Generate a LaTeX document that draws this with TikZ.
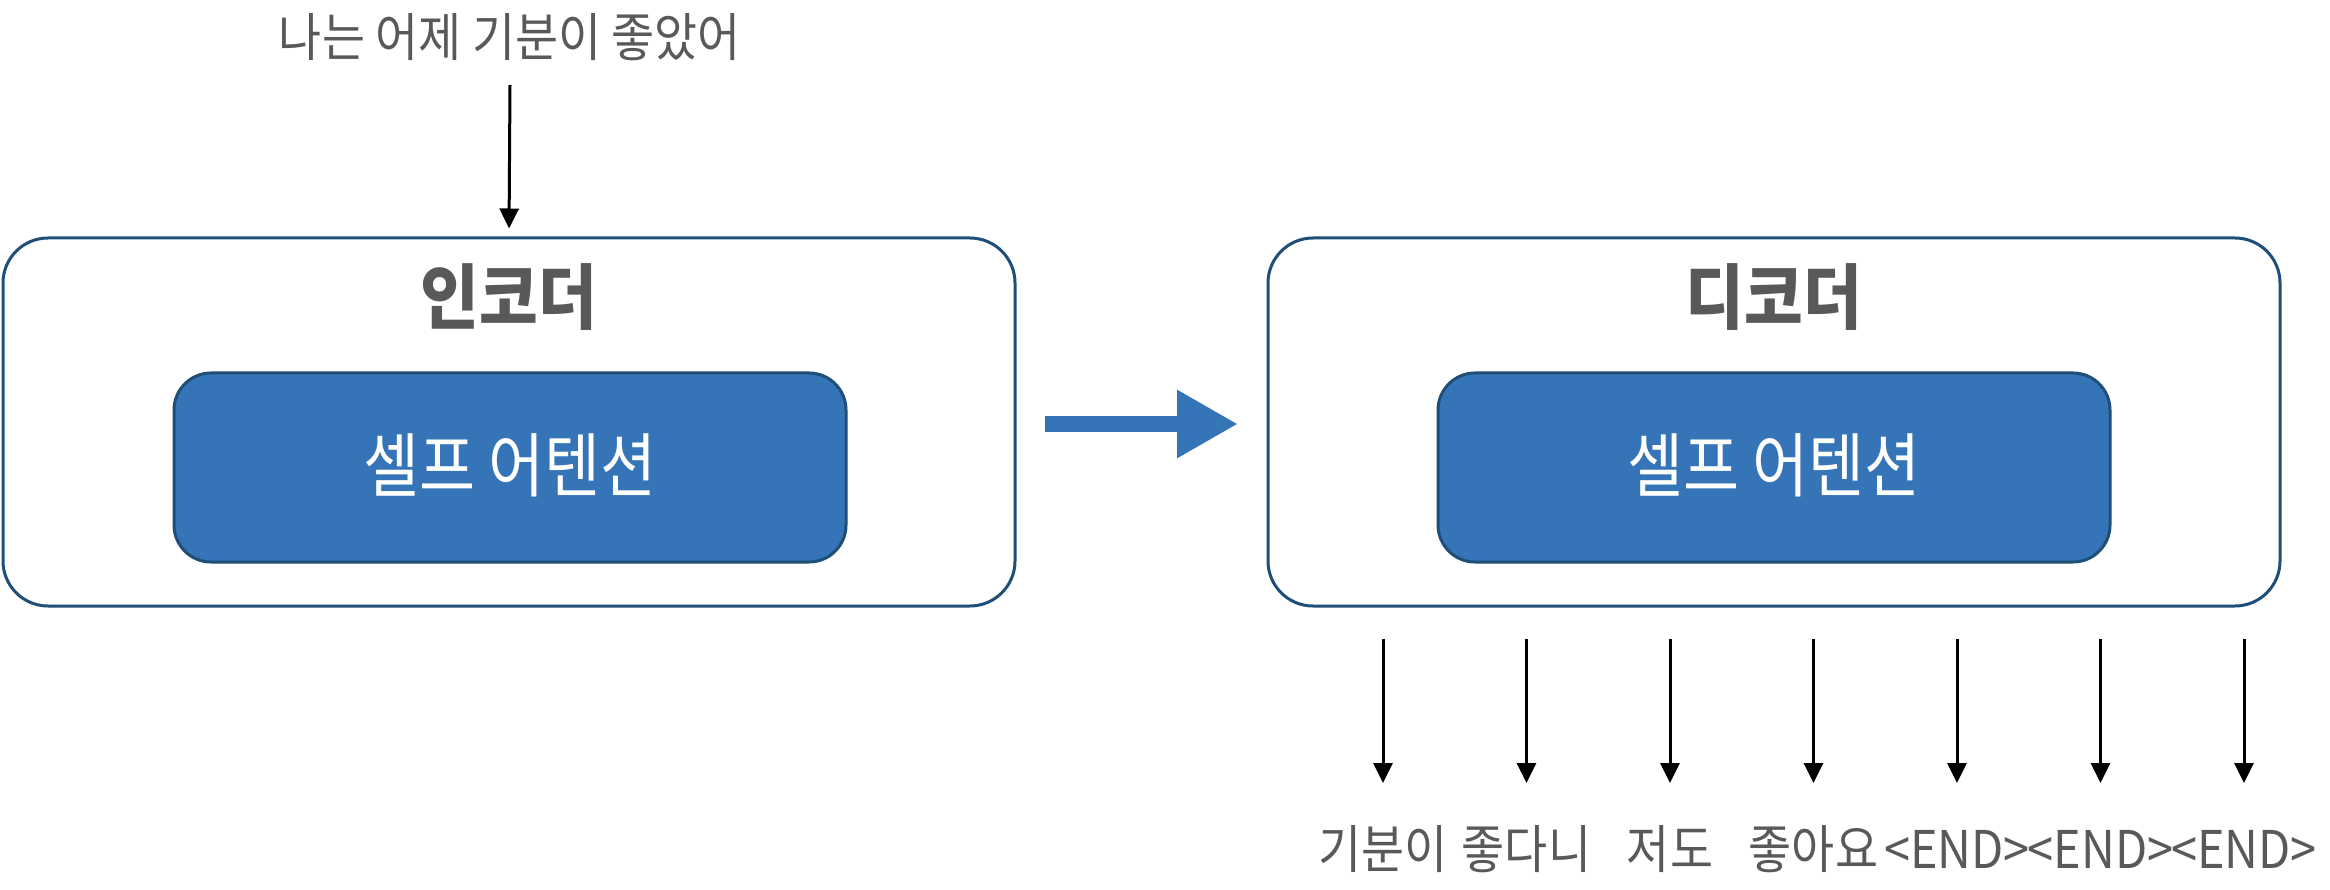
\documentclass[tikz,border=0pt]{standalone}
\usepackage{fontspec}
\newfontfamily\kr[FakeStretch=0.9]{Noto Sans CJK KR}
\newfontfamily\krn[FakeStretch=0.87]{Noto Sans CJK KR}
\usetikzlibrary{arrows.meta}
\definecolor{boxline}{RGB}{31,78,121}
\definecolor{boxfill}{RGB}{53,116,182}
\definecolor{txtgrey}{RGB}{89,89,89}
\begin{document}
\begin{tikzpicture}[x=1pt,y=-1pt,
  outerbox/.style={draw=boxline,line width=3pt,fill=white,rounded corners=45pt,minimum width=1012pt,minimum height=368pt,inner sep=0pt},
  innerbox/.style={draw=boxline,line width=3pt,fill=boxfill,rounded corners=37pt,minimum width=672pt,minimum height=189pt,inner sep=0pt},
  title/.style={text=txtgrey,font=\kr\bfseries\fontsize{71}{80}\selectfont,inner sep=0pt},
  innertxt/.style={text=white,font=\krn\fontsize{70}{80}\selectfont,inner sep=0pt},
  word/.style={text=txtgrey,font=\kr\fontsize{52}{60}\selectfont,inner sep=0pt},
  thin/.style={draw=black,line width=3pt,-{Triangle[length=20pt,width=19pt]}},
  bigarrow/.style={draw=boxfill,line width=16pt,-{Triangle[length=61pt 0 0,width=64pt 0 0]}}]
\useasboundingbox (0,0) rectangle (2330,890);
% encoder
\node[outerbox] (enc) at (509,422) {};
\node[title] (enct) at (509,297) {인코더};
\node[innerbox] (encin) at (510,467.5) {};
\node[innertxt] (encsa) at (510,465) {셀프 어텐션};
% decoder
\node[outerbox] (dec) at (1774,422) {};
\node[title] (dect) at (1774,297) {디코더};
\node[innerbox] (decin) at (1774,467.5) {};
\node[innertxt] (decsa) at (1774,465) {셀프 어텐션};
% input
\node[word] (inp) at (510,37) {나는 어제 기분이 좋았어};
\coordinate (inS) at (510,85);
\draw[thin,shorten >=8pt] (inS) -- (enc.north);
% big arrow
\coordinate (a1) at (1045,424);
\coordinate (a2) at (1238,424);
\draw[bigarrow] (a1) -- (a2);
% outputs
\foreach \i/\x/\t in {1/1383/기분이,2/1526.5/좋다니,3/1670/저도,4/1813.5/좋아요,5/1957/<END>,6/2100.5/<END>,7/2244/<END>}{
  \node[word] (o\i) at (\x,849) {\t};
  \coordinate (s\i) at (\x,639);
  \coordinate (e\i) at (\x,783);
  \draw[thin] (s\i) -- (e\i);
}
\end{tikzpicture}
\end{document}
